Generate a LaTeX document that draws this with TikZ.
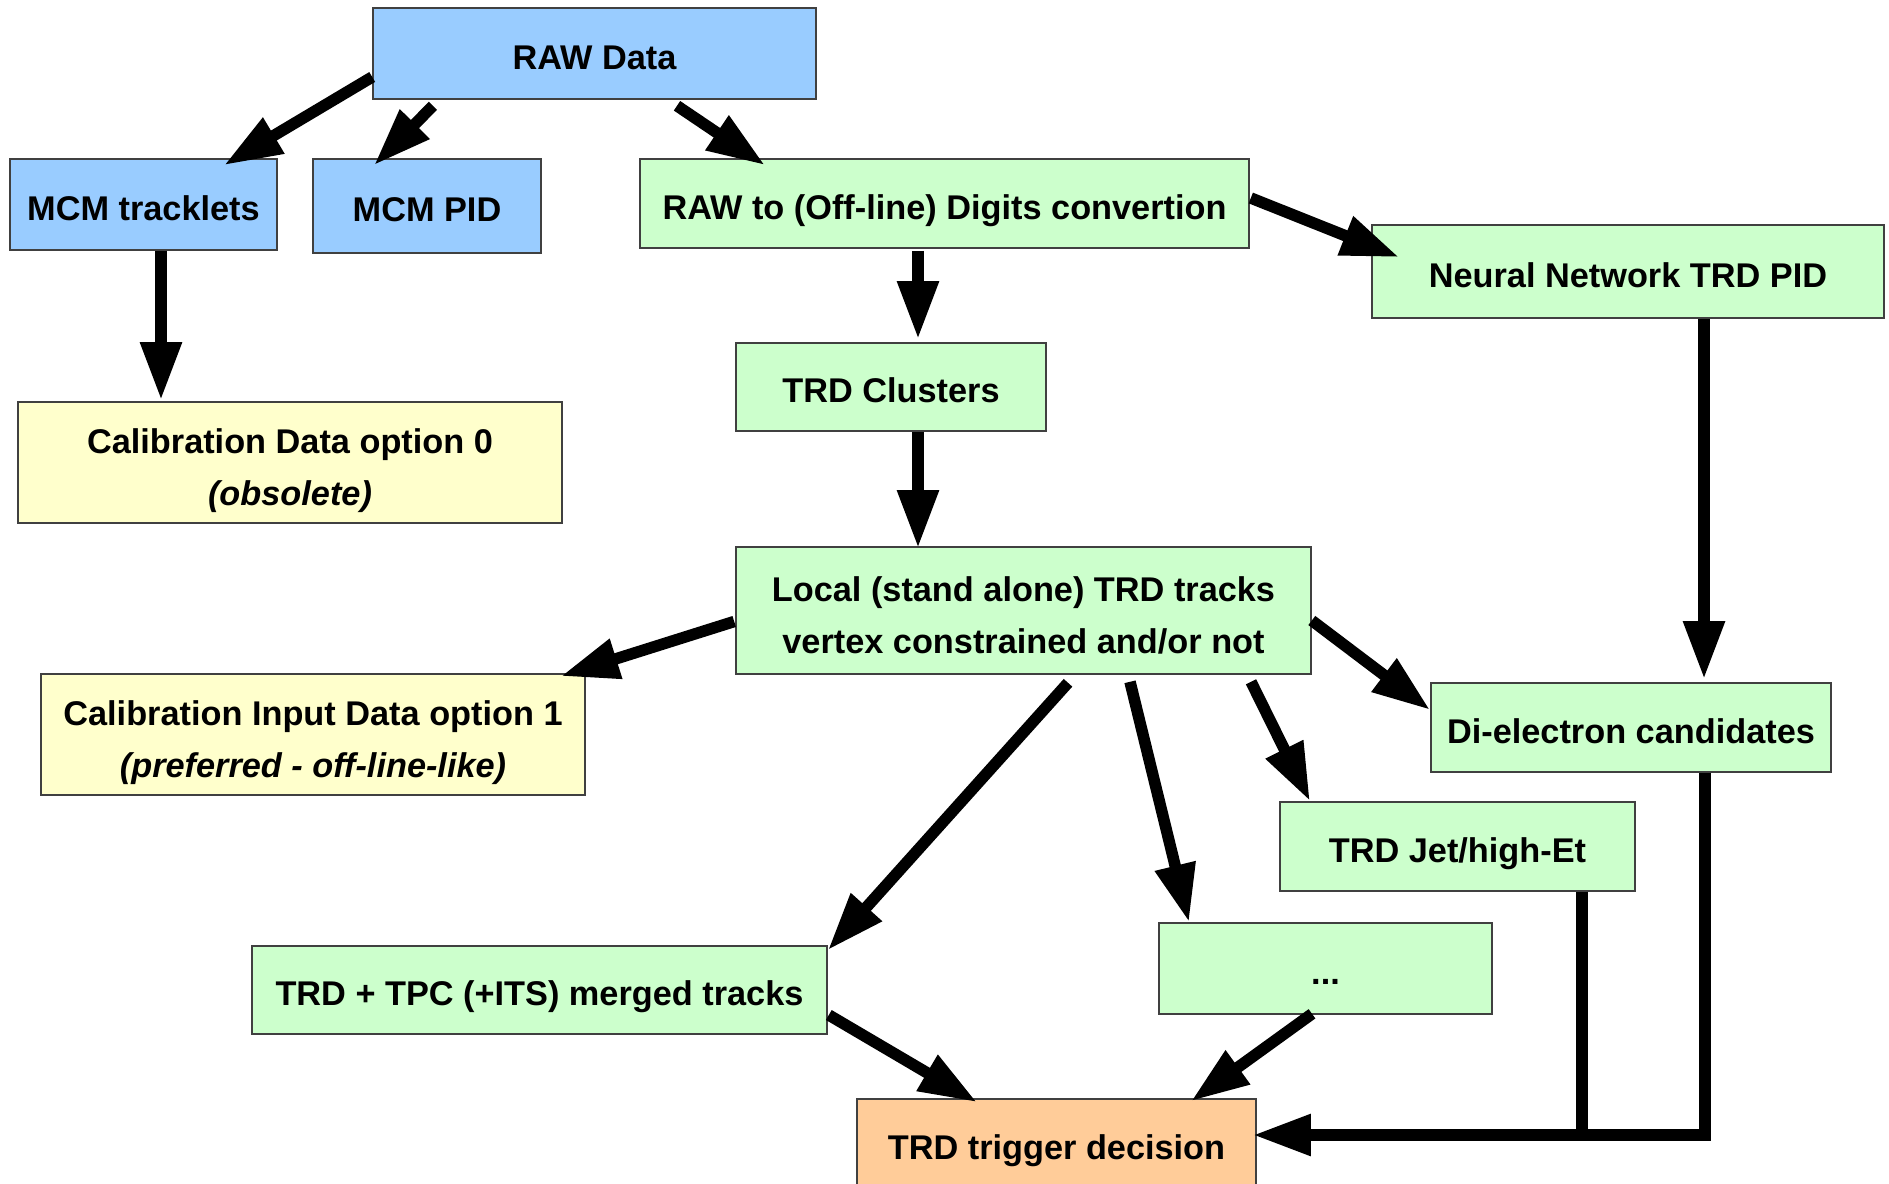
\documentclass[tikz,border=0pt]{standalone}
\usepackage{fontspec}
\setmainfont{Liberation Sans}
\usetikzlibrary{arrows.meta,calc}
\definecolor{rawblue}{RGB}{153,204,255}
\definecolor{recogreen}{RGB}{204,255,204}
\definecolor{calibyellow}{RGB}{255,255,204}
\definecolor{trigorange}{RGB}{255,204,153}
\definecolor{boxgray}{RGB}{64,64,64}
\tikzset{
  box/.style={draw=boxgray,line width=0.8pt,inner sep=0pt,align=center,
    text height=15.8pt,text depth=0pt,
    font=\fontsize{17.15pt}{26pt}\selectfont\bfseries},
  twolines/.style={text height=42.5pt,text depth=0pt},
  bluebox/.style={box,fill=rawblue},
  greenbox/.style={box,fill=recogreen},
  yellowbox/.style={box,fill=calibyellow,twolines},
  orangebox/.style={box,fill=trigorange},
  flow/.style={->,line width=5.75pt},
  feed/.style={line width=5.75pt}
}

\begin{document}
\begin{tikzpicture}[x=0.5pt,y=-0.5pt,>={Triangle[length=29pt,width=19.5pt]}]
  \useasboundingbox (0,0) rectangle (1889,1183);
  \fill[white] (0,0) rectangle (1889,1183);
  \node[bluebox,minimum width=221.5pt,minimum height=45.5pt] (raw) at (594.5,53.5) {RAW Data};
  \node[bluebox,minimum width=133.5pt,minimum height=45.5pt] (tracklets) at (143.5,204.5) {MCM tracklets};
  \node[bluebox,minimum width=114pt,minimum height=47pt] (pid) at (427,206) {MCM PID};
  \node[greenbox,minimum width=304.5pt,minimum height=44.5pt] (digits) at (944.5,203.5) {RAW to (Off-line) Digits convertion};
  \node[greenbox,minimum width=256pt,minimum height=46.5pt] (nn) at (1628,271.5) {Neural Network TRD PID};
  \node[greenbox,minimum width=155pt,minimum height=44pt] (clusters) at (891,387) {TRD Clusters};
  \node[yellowbox,minimum width=272pt,minimum height=60.5pt] (calzero) at (290,462.5) {Calibration Data option 0\\\itshape(obsolete)};
  \node[greenbox,twolines,minimum width=287.5pt,minimum height=63.5pt] (local) at (1023.5,610.5) {Local (stand alone) TRD tracks\\vertex constrained and/or not};
  \node[yellowbox,minimum width=272pt,minimum height=60.5pt] (calone) at (313,734.5) {Calibration Input Data option 1\\\itshape(preferred - off-line-like)};
  \node[greenbox,minimum width=200pt,minimum height=44.5pt] (di) at (1631,727.5) {Di-electron candidates};
  \node[greenbox,minimum width=177.5pt,minimum height=44.5pt] (jet) at (1457.5,846.5) {TRD Jet/high-Et};
  \node[greenbox,minimum width=166.5pt,minimum height=45.5pt] (dots) at (1325.5,968.5) {...};
  \node[greenbox,minimum width=287.5pt,minimum height=44pt] (merged) at (539.5,990) {TRD + TPC (+ITS) merged tracks};
  \node[orangebox,minimum width=199.5pt,minimum height=44.5pt] (trigger) at (1056.5,1143.5) {TRD trigger decision};
  % raw data
  \draw[flow] ($(raw.west)+(0,23.5)$) -- ($(tracklets.north)+(80.5,7)$);
  \draw[flow] ($(raw.south)+(-161.5,6)$) -- ($(pid.north)+(-53,7)$);
  \draw[flow] ($(raw.south)+(82.5,6)$) -- ($(digits.north)+(-179.5,7)$);
  \draw[flow] ($(tracklets.south)+(17.5,0)$) -- ($(calzero.north)+(-129,-1)$);
  % reconstruction
  \draw[flow] ($(digits.east)+(1,-5.5)$) -- ($(nn.north west)+(28,33)$);
  \draw[flow] ($(digits.south)+(-26.5,2)$) -- ($(clusters.north)+(27,-3)$);
  \draw[flow] ($(clusters.south)+(27,0)$) -- ($(local.north)+(-105.5,2)$);
  \draw[flow] ($(local.west)+(-1,11)$) -- ($(calone.north east)+(-25,3)$);
  \draw[flow] ($(local.east)+(0,10)$) -- ($(di.west)+(0,-17.5)$);
  \draw[flow] ($(nn.south)+(76,0)$) -- ($(di.north)+(73,-3)$);
  \draw[flow] ($(local.south)+(227.5,7)$) -- ($(jet.north)+(-147.5,0)$);
  \draw[flow] ($(local.south)+(106.5,7)$) -- ($(dots.north)+(-136.5,0)$);
  \draw[flow] ($(local.south)+(44.5,8)$) -- ($(merged.north east)+(0,5)$);
  % trigger
  \draw[flow] ($(merged.east)+(1,25)$) -- ($(trigger.north)+(-79.5,4)$);
  \draw[flow] ($(dots.south)+(-13.5,-1)$) -- ($(trigger.north)+(134.5,3)$);
  \coordinate (jetout) at ($(jet.south)+(124.5,0)$);
  \coordinate (diout) at ($(di.south)+(74,0)$);
  \coordinate (trigin) at ($(trigger.east)+(-4,-8.5)$);
  \draw[feed] (jetout) -- (jetout |- trigin);
  \draw[flow] (diout) |- (trigin);
\end{tikzpicture}
\end{document}
